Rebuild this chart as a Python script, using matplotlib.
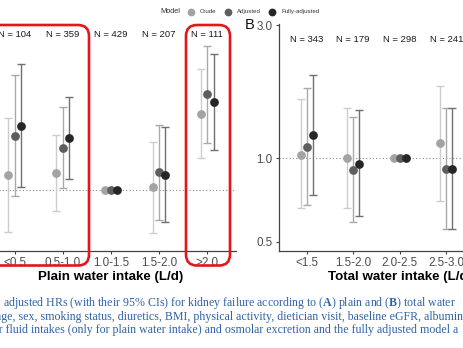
import numpy as np
import matplotlib
matplotlib.use("Agg")
import matplotlib.pyplot as plt
import matplotlib.transforms as mtransforms
from matplotlib.patches import FancyBboxPatch
from matplotlib.lines import Line2D

# ---------------- data ----------------
models = ["Crude", "Adjusted", "Fully-adjusted"]

plain_cats = ["<0.5", "0.5-1.0", "1.0-1.5", "1.5-2.0", ">2.0"]
plain_n = [104, 359, 429, 207, 111]
plain_crude_hr = [1.13, 1.15, 1.00, 1.03, 1.88]
plain_crude_lo = [0.71, 0.845, np.nan, 0.70, 1.31]
plain_crude_hi = [1.81, 1.58, np.nan, 1.49, 2.73]
plain_adj_hr = [1.57, 1.42, 1.00, 1.16, 2.21]
plain_adj_lo = [0.955, 1.02, np.nan, 0.78, 1.48]
plain_adj_hi = [2.59, 1.99, np.nan, 1.71, 3.29]
plain_full_hr = [1.70, 1.54, 1.00, 1.13, 2.07]
plain_full_lo = [1.03, 1.095, np.nan, 0.77, 1.39]
plain_full_hi = [2.84, 2.16, np.nan, 1.68, 3.08]

total_cats = ["<1.5", "1.5-2.0", "2.0-2.5", "2.5-3.0"]
total_n = [343, 179, 298, 241]
total_crude_hr = [1.03, 1.00, 1.00, 1.13]
total_crude_lo = [0.66, 0.66, np.nan, 0.70]
total_crude_hi = [1.63, 1.51, np.nan, 1.81]
total_adj_hr = [1.10, 0.91, 1.00, 0.915]
total_adj_lo = [0.68, 0.59, np.nan, 0.556]
total_adj_hi = [1.79, 1.41, np.nan, 1.51]
total_full_hr = [1.21, 0.95, 1.00, 0.915]
total_full_lo = [0.74, 0.62, np.nan, 0.556]
total_full_hi = [1.98, 1.49, np.nan, 1.51]

y_ticks = [0.5, 1.0, 3.0]
y_ticklabels = ["0.5", "1.0", "3.0"]

caption_lines = [
    r"adjusted HRs (with their 95% CIs) for kidney failure according to ($\mathbf{A}$) plain and ($\mathbf{B}$) total water",
    r"age, sex, smoking status, diuretics, BMI, physical activity, dietician visit, baseline eGFR, albuminu",
    r"other fluid intakes (only for plain water intake) and osmolar excretion and the fully adjusted model a",
]

# ---------------- style ----------------
plt.rcParams["font.family"] = ["Liberation Sans", "DejaVu Sans"]
plt.rcParams["mathtext.fontset"] = "custom"
plt.rcParams["mathtext.rm"] = "Liberation Serif"
plt.rcParams["mathtext.bf"] = "Liberation Serif:bold"

point_colors = ["#a3a3a3", "#5e5e5e", "#262626"]
bar_colors = ["#cdcdcd", "#a9a9a9", "#707070"]
spine_col = "#444444"
tick_col = "#4d4d4d"

W, H = 463, 348
fig = plt.figure(figsize=(W / 100, H / 100), dpi=100)
px = mtransforms.Affine2D().scale(1 / 100, -1 / 100).translate(0, H / 100) + fig.dpi_scale_trans


def add_axes_px(left, right, top, bottom):
    return fig.add_axes([left / W, 1 - bottom / H, (right - left) / W, (bottom - top) / H])


axA = add_axes_px(-14.1, 236.0, 24, 251)
axB = add_axes_px(278.8, 520.6, 24, 251)

dodge = 0.4 / 3


def panel(ax, cats, ns, series, ylim, n_y, xlabel):
    x = np.arange(1, len(cats) + 1)
    ax.set_yscale("log")
    ax.axhline(1.0, color="#8a8a8a", ls=(0, (1, 2)), lw=0.8, zorder=1)
    for k, (hr, lo, hi) in enumerate(series):
        hr = np.array(hr); lo = np.array(lo); hi = np.array(hi)
        xs = x + (k - 1) * dodge
        m = ~np.isnan(lo)
        ax.errorbar(xs[m], hr[m], yerr=[hr[m] - lo[m], hi[m] - hr[m]], fmt="none",
                    ecolor=bar_colors[k], elinewidth=1.0, capsize=2.6, capthick=1.0, zorder=2)
    for k, (hr, lo, hi) in enumerate(series):
        xs = x + (k - 1) * dodge
        ax.plot(xs, hr, "o", color=point_colors[k], ms=6.3, mew=0, zorder=3)
    for xi, n in zip(x, ns):
        ax.text(xi, n_y, f"N = {n}", ha="center", va="center", fontsize=6.8, color="#1a1a1a")
    ax.set_xticks(x)
    ax.set_xticklabels(cats, fontsize=8.4, color=tick_col)
    ax.set_yticks(y_ticks)
    ax.set_yticklabels(y_ticklabels, fontsize=8.4, color=tick_col)
    ax.yaxis.set_minor_locator(matplotlib.ticker.NullLocator())
    ax.tick_params(length=2.5, width=0.8, color=spine_col, pad=2)
    for s in ["top", "right"]:
        ax.spines[s].set_visible(False)
    for s in ["left", "bottom"]:
        ax.spines[s].set_color(spine_col)
        ax.spines[s].set_linewidth(0.9)
    ax.set_xlabel(xlabel, fontsize=9.6, fontweight="bold", labelpad=1.5)
    ax.patch.set_alpha(0)
    ax.set_xlim(0.4, 5.6)
    ax.set_ylim(*ylim)


panel(axA, plain_cats, plain_n,
      [(plain_crude_hr, plain_crude_lo, plain_crude_hi),
       (plain_adj_hr, plain_adj_lo, plain_adj_hi),
       (plain_full_hr, plain_full_lo, plain_full_hi)],
      (0.605, 3.95), 3.61, "Plain water intake (L/d)")
panel(axB, total_cats, total_n,
      [(total_crude_hr, total_crude_lo, total_crude_hi),
       (total_adj_hr, total_adj_lo, total_adj_hi),
       (total_full_hr, total_full_lo, total_full_hi)],
      (0.464, 3.03), 2.67, "Total water intake (L/d)")

# panel label
fig.text(245, 25, "B", transform=px, fontsize=10.5, ha="left", va="center", color="#111111")

# legend
fig.text(160, 11.5, "Model", transform=px, fontsize=5.3, ha="left", va="center", color="#333333")
leg_items = [(190.5, 200, "Crude"), (227.7, 236.5, "Adjusted"), (272.3, 281.5, "Fully-adjusted")]
for k, (cx, tx, lab) in enumerate(leg_items):
    fig.add_artist(Line2D([cx], [11.5], transform=px, marker="o", ls="", ms=5.6,
                          mew=0, color=point_colors[k]))
    fig.text(tx, 11.5, lab, transform=px, fontsize=4.4, ha="left", va="center", color="#333333")

# red highlight boxes
for (l, r) in [(-30, 89), (186, 230)]:
    fig.add_artist(FancyBboxPatch((l, 25), r - l, 240.5, transform=px,
                                  boxstyle="round,pad=0,rounding_size=11",
                                  fill=False, ec="#e3161d", lw=1.9, zorder=10))

# caption
renderer = fig.canvas.get_renderer()
cap_col = "#2f63a6"
tmp = fig.text(0, 0, caption_lines[0], transform=px, fontsize=9, family="Liberation Serif")
w0 = tmp.get_window_extent(renderer).width
tmp.remove()
cap_fs = 9 * 455 / w0
tmp = fig.text(0, 0, "othe", transform=px, fontsize=cap_fs, family="Liberation Serif")
w_othe = tmp.get_window_extent(renderer).width
tmp.remove()
cap_x = [3, -4, -w_othe - 1]
cap_y = [303, 316.7, 330.5]
for s, cx, cy in zip(caption_lines, cap_x, cap_y):
    fig.text(cx, cy, s, transform=px, fontsize=cap_fs, family="Liberation Serif",
             ha="left", va="center", color=cap_col)

fig.savefig("out.png", dpi=100)
